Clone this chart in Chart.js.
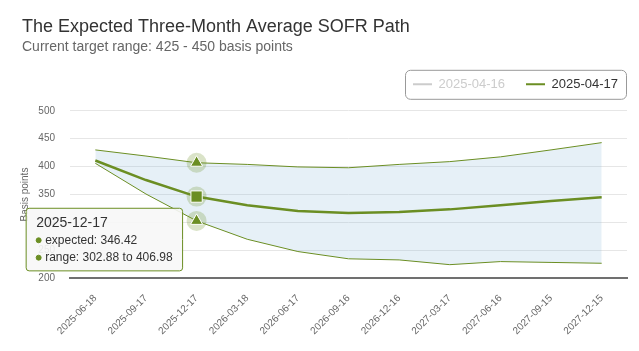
<!DOCTYPE html>
<html>
<head>
<meta charset="utf-8">
<script src="https://cdn.jsdelivr.net/npm/chart.js@4.4.0/dist/chart.umd.min.js"></script>
<style>
  html, body { margin: 0; padding: 0; background: #fff; }
  #wrap { width: 639px; height: 351px; position: relative; }
</style>
</head>
<body>
<div id="wrap"><canvas id="sofr-chart"></canvas></div>
<script>
// Quarterly dates on the x axis
const dates = ['2025-06-18', '2025-09-17', '2025-12-17', '2026-03-18', '2026-06-17', '2026-09-16',
               '2026-12-16', '2027-03-17', '2027-06-16', '2027-09-15', '2027-12-15'];

// Expected three-month average SOFR (basis points)
const expected = [411, 376, 346.42, 331, 320.5, 317, 319, 323.5, 331, 338.5, 345];

// Range band, low and high
const rangeLow  = [406, 351, 302.88, 270, 248, 235, 233, 224.5, 230, 228.5, 227];
const rangeHigh = [430, 419, 406.98, 404, 399.5, 398, 404, 409, 417.5, 430, 443];

// Legend entries (older run is hidden)
const seriesNames = ['2025-04-16', '2025-04-17'];

// y axis
const yMin = 200;
const yMax = 500;
const yStep = 25;

const olive = '#6b8e23';
const hoverIndex = 2;

Chart.defaults.font.family = '"Liberation Sans", Arial, Helvetica, sans-serif';
Chart.defaults.color = '#666666';

// put the tooltip to the left of the hovered point, like the original
Chart.Tooltip.positioners.leftOfPoint = function(items) {
    const it = items.find(i => i.datasetIndex === 1) || items[0];
    if (!it) return false;
    return { x: it.element.x - 14, y: it.element.y + 43 };
};

// halo circles under the hovered markers
const haloPlugin = {
    id: 'halo',
    beforeDatasetsDraw(chart) {
        const ctx = chart.ctx;
        chart.getActiveElements().forEach(a => {
            ctx.save();
            ctx.beginPath();
            ctx.arc(a.element.x, a.element.y, 10, 0, Math.PI * 2);
            ctx.fillStyle = 'rgba(107, 142, 35, 0.25)';
            ctx.fill();
            ctx.restore();
        });
    }
};

// extra room under the legend + rounded border around the items
const legendBox = {
    id: 'legendBox',
    afterInit(chart) {
        const lg = chart.legend;
        const origFit = lg.fit;
        lg.fit = function() {
            origFit.call(this);
            this.height += 10;
        };
    },
    afterDraw(chart) {
        const lg = chart.legend;
        if (!lg || !lg.lineWidths) return;
        const pad = lg.options.labels.padding;
        const itemH = lg.options.labels.font.size;
        const left = lg.right - lg.lineWidths[0] - 8;
        const right = lg.right - pad + 8;
        const top = lg.top + pad - 8;
        const ctx = chart.ctx;
        ctx.save();
        ctx.beginPath();
        ctx.roundRect(left + 0.5, top + 0.5, right - left, itemH + 16, 5);
        ctx.strokeStyle = '#999999';
        ctx.lineWidth = 1;
        ctx.stroke();
        ctx.restore();
    }
};

const ctx = document.getElementById('sofr-chart').getContext('2d');

const chart = new Chart(ctx, {
    type: 'line',
    data: {
        labels: dates,
        datasets: [
            {
                label: seriesNames[0],
                data: [],
                hidden: true,
                borderColor: '#cccccc'
            },
            {
                label: seriesNames[1],
                data: expected,
                borderColor: olive,
                borderWidth: 2.5,
                tension: 0,
                fill: false,
                pointStyle: 'rect',
                pointRadius: 0,
                pointHoverRadius: 8,
                pointHoverBackgroundColor: olive,
                pointHoverBorderColor: '#ffffff',
                pointHoverBorderWidth: 1
            },
            {
                label: 'high',
                data: rangeHigh,
                borderColor: olive,
                borderWidth: 1,
                tension: 0,
                fill: '+1',
                backgroundColor: 'rgba(130, 180, 215, 0.2)',
                pointStyle: 'triangle',
                pointRadius: 0,
                pointHoverRadius: 7,
                pointHoverBackgroundColor: olive,
                pointHoverBorderColor: '#ffffff',
                pointHoverBorderWidth: 1
            },
            {
                label: 'low',
                data: rangeLow,
                borderColor: olive,
                borderWidth: 1,
                tension: 0,
                fill: false,
                pointStyle: 'triangle',
                pointRadius: 0,
                pointHoverRadius: 7,
                pointHoverBackgroundColor: olive,
                pointHoverBorderColor: '#ffffff',
                pointHoverBorderWidth: 1
            }
        ]
    },
    options: {
        responsive: true,
        maintainAspectRatio: false,
        animation: false,
        events: [],
        layout: {
            padding: { left: 22, right: 0, top: 0, bottom: 0 }
        },
        interaction: { mode: 'index', intersect: false },
        scales: {
            x: {
                type: 'category',
                offset: true,
                afterFit(scale) {
                    scale.paddingLeft = 0;
                    scale.paddingRight = 12;
                },
                grid: { display: false, drawTicks: false },
                border: { display: true, color: '#707070', width: 2 },
                ticks: {
                    autoSkip: false,
                    maxRotation: 45,
                    minRotation: 45,
                    padding: 14,
                    color: '#666666',
                    font: { size: 10 }
                }
            },
            y: {
                min: yMin,
                max: yMax,
                afterFit(scale) { scale.width = 48; },
                grid: {
                    drawTicks: false,
                    color: c => (c.tick && c.tick.value === yMin) ? 'rgba(0,0,0,0)' : '#e6e6e6'
                },
                border: { display: false },
                ticks: {
                    stepSize: yStep,
                    padding: 15,
                    color: '#666666',
                    font: { size: 10 },
                    callback: v => (v % 50 === 0 ? v : '')
                },
                title: {
                    display: true,
                    text: 'Basis points',
                    color: '#666666',
                    font: { size: 10 },
                    padding: { top: -3, bottom: 7 }
                }
            }
        },
        plugins: {
            filler: { drawTime: 'beforeDatasetsDraw' },
            title: {
                display: true,
                text: 'The Expected Three-Month Average SOFR Path',
                align: 'start',
                color: '#333333',
                font: { size: 18, weight: 'normal' },
                padding: { top: 16, bottom: 1 }
            },
            subtitle: {
                display: true,
                text: 'Current target range: 425 - 450 basis points',
                align: 'start',
                color: '#666666',
                font: { size: 14, weight: 'normal' },
                padding: { top: 0, bottom: 1.4 }
            },
            legend: {
                display: true,
                position: 'top',
                align: 'end',
                labels: {
                    boxWidth: 19,
                    boxHeight: 2,
                    padding: 21,
                    font: { size: 13 },
                    generateLabels(chart) {
                        return chart.data.datasets.slice(0, 2).map((ds, i) => ({
                            text: ds.label,
                            fillStyle: i === 0 ? '#cccccc' : olive,
                            strokeStyle: i === 0 ? '#cccccc' : olive,
                            lineWidth: 0,
                            fontColor: i === 0 ? '#cccccc' : '#333333',
                            hidden: false,
                            datasetIndex: i
                        }));
                    }
                }
            },
            tooltip: {
                enabled: true,
                position: 'leftOfPoint',
                xAlign: 'right',
                yAlign: 'center',
                caretSize: 0,
                caretPadding: 0,
                backgroundColor: 'rgba(247, 247, 247, 0.9)',
                borderColor: olive,
                borderWidth: 1,
                cornerRadius: 3,
                titleColor: '#333333',
                titleFont: { size: 14, weight: 'normal' },
                titleMarginBottom: 2,
                bodyColor: '#333333',
                bodyFont: { size: 12 },
                bodySpacing: 3,
                padding: { top: 6, bottom: 6, left: 10, right: 10 },
                usePointStyle: true,
                boxWidth: 5,
                boxHeight: 5,
                boxPadding: 2,
                filter: item => item.datasetIndex === 1 || item.datasetIndex === 2,
                callbacks: {
                    title: items => items.length ? items[0].label : '',
                    label(item) {
                        const i = item.dataIndex;
                        if (item.datasetIndex === 1) {
                            return 'expected: ' + expected[i].toFixed(2);
                        }
                        return 'range: ' + rangeLow[i].toFixed(2) + ' to ' + rangeHigh[i].toFixed(2);
                    },
                    labelColor: () => ({ borderColor: olive, backgroundColor: olive }),
                    labelPointStyle: () => ({ pointStyle: 'circle', rotation: 0 })
                }
            }
        }
    },
    plugins: [haloPlugin, legendBox]
});

// show the hovered state for 2025-12-17
const active = [1, 2, 3].map(d => ({ datasetIndex: d, index: hoverIndex }));
chart.tooltip.setActiveElements(active, { x: 0, y: 0 });
chart.setActiveElements(active);
chart.update();
</script>
</body>
</html>
